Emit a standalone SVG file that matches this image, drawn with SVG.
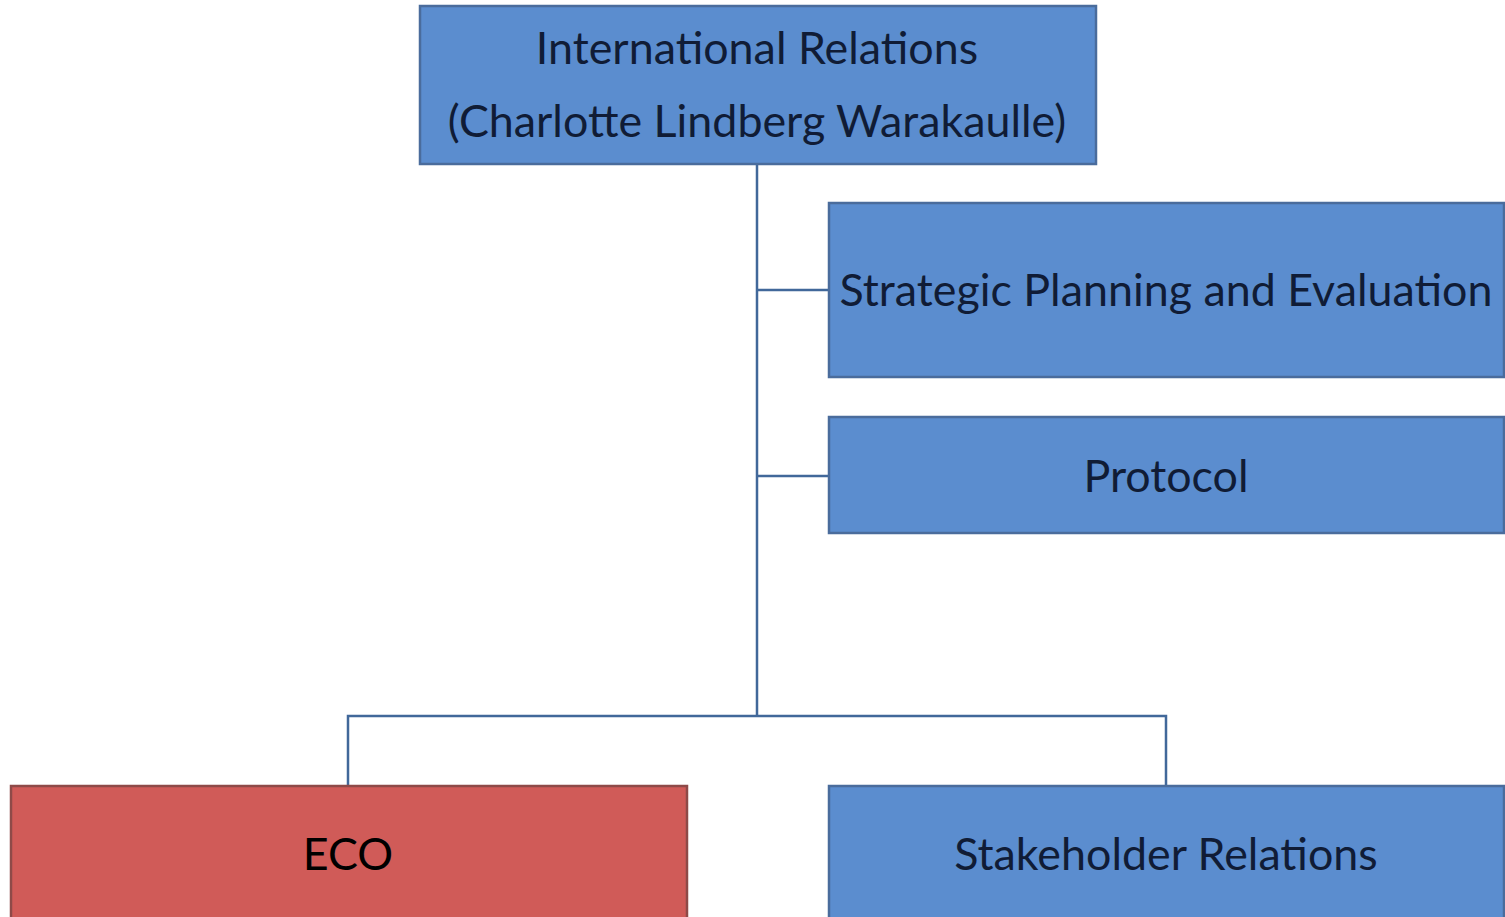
<svg xmlns="http://www.w3.org/2000/svg" width="1505" height="917" viewBox="0 0 1505 917">
<style>
.blue{fill:#5b8dcf;stroke:#4a6c9c;stroke-width:2.5}
.red{fill:#d05b58;stroke:#8e4a48;stroke-width:2.5}
.t{font-family:Lato,"Open Sans",sans-serif;font-size:44.8px;fill:#101c36;text-anchor:middle}
.c{stroke:#41689a;stroke-width:2.5;fill:none}
</style>
<rect width="1505" height="917" fill="#fff"/>
<g id="connectors">
<path class="c" d="M757 164V716M757 290H829M757 476H829M348 786V716H1166V786"/>
</g>
<g id="n-ir">
<rect class="blue" x="420" y="6" width="676" height="158"/>
<text class="t" x="757" y="64">International Relations</text>
<text class="t" x="757" y="137">(Charlotte Lindberg Warakaulle)</text>
</g>
<g id="n-spe">
<rect class="blue" x="829" y="203" width="675" height="174"/>
<text class="t" x="1166" y="306">Strategic Planning and Evaluation</text>
</g>
<g id="n-protocol">
<rect class="blue" x="829" y="417" width="675" height="116"/>
<text class="t" x="1166" y="492">Protocol</text>
</g>
<g id="n-eco">
<rect class="red" x="11" y="786" width="676" height="140"/>
<text class="t" x="348" y="870" style="fill:#000">ECO</text>
</g>
<g id="n-sr">
<rect class="blue" x="829" y="786" width="675" height="140"/>
<text class="t" x="1166" y="870">Stakeholder Relations</text>
</g>
</svg>
